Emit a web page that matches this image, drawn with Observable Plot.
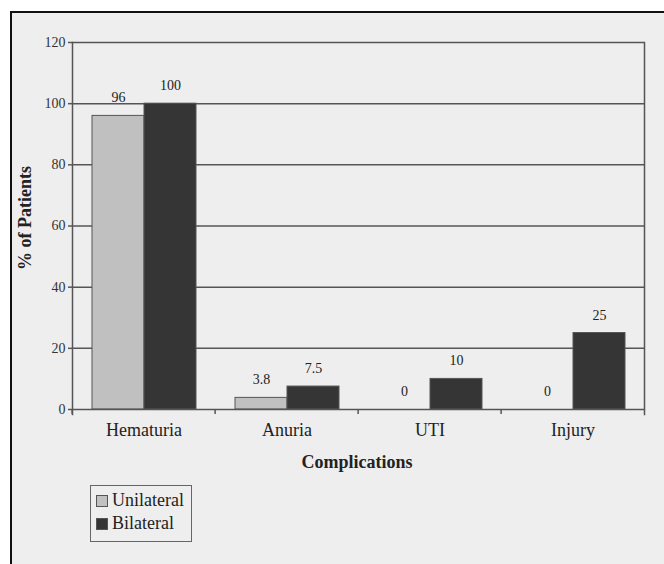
<!DOCTYPE html>
<html>
<head>
<meta charset="utf-8">
<script src="https://cdn.jsdelivr.net/npm/d3@7"></script>
<script src="https://cdn.jsdelivr.net/npm/@observablehq/plot@0.6"></script>
<style>
  html, body { margin: 0; padding: 0; background: #fff; }
  #wrap { position: relative; width: 664px; height: 564px; overflow: hidden; background: #fff; font-family: "Liberation Serif", "Times New Roman", serif; color: #222; }
  #panel { position: absolute; left: 10px; top: 11px; width: 700px; height: 600px; border-left: 2px solid #111; border-top: 2px solid #111; background: #eeeeee; }
  #chart { position: absolute; left: 0; top: 0; }
  #ytitle { position: absolute; left: 25px; top: 218px; transform: translate(-50%, -50%) rotate(-90deg); font-weight: bold; font-size: 18px; white-space: nowrap; }
  #xtitle { position: absolute; left: 357px; top: 462px; transform: translate(-50%, -50%); font-weight: bold; font-size: 18px; white-space: nowrap; }
  #legend { position: absolute; left: 90px; top: 485px; width: 100px; height: 55px; border: 1.5px solid #666; font-size: 18px; }
  .item { position: absolute; left: 5px; display: flex; align-items: center; }
  .sw { width: 10px; height: 10px; margin-right: 4px; border: 1px solid #555; }
</style>
</head>
<body>
<div id="wrap">
  <div id="panel"></div>
  <div id="chart"></div>
  <div id="ytitle">% of Patients</div>
  <div id="xtitle">Complications</div>
  <div id="legend"></div>
</div>
<script>
const categories = ["Hematuria", "Anuria", "UTI", "Injury"];
const seriesNames = ["Unilateral", "Bilateral"];
const unilateral = [96, 3.8, 0, 0];
const bilateral = [100, 7.5, 10, 25];
const yTicks = [0, 20, 40, 60, 80, 100, 120];
const seriesColors = ["#c0c0c0", "#353535"];

const data = [];
categories.forEach((c, i) => {
  data.push({category: c, series: "Unilateral", value: unilateral[i]});
  data.push({category: c, series: "Bilateral", value: bilateral[i]});
});

const chart = Plot.plot({
  width: 664,
  height: 480,
  marginLeft: 70,
  marginRight: 19,
  marginTop: 42,
  marginBottom: 71,
  style: {background: "transparent", fontFamily: "Liberation Serif, Times New Roman, serif", color: "#222"},
  fx: {domain: categories, padding: 0, axis: null, label: null},
  x: {domain: seriesNames, paddingInner: 0, paddingOuter: 0.36, axis: null},
  y: {domain: [0, 120], axis: null},
  color: {domain: seriesNames, range: seriesColors},
  marks: [
    Plot.ruleY(yTicks.filter(d => d > 0), {stroke: "#555", strokeWidth: 1.5}),
    Plot.barY(data.filter(d => d.value > 0), {fx: "category", x: "series", y: "value", fill: "series", stroke: "#555", strokeWidth: 1}),
    Plot.text(data, {fx: "category", x: "series", y: "value", text: d => String(d.value), dy: -18, fontSize: 14, fill: "#222"}),
    Plot.ruleY([0], {stroke: "#555", strokeWidth: 1.5}),
    Plot.frame({anchor: "left", fx: () => "Hematuria", stroke: "#555", strokeWidth: 1.5, insetBottom: -5}),
    Plot.frame({anchor: "right", fx: () => "Injury", stroke: "#555", strokeWidth: 1.5, insetBottom: -5}),
    Plot.axisFx({anchor: "bottom", text: null, label: null, tickSize: 5, dx: -71.875, stroke: "#555", strokeWidth: 1.5}),
    Plot.axisFx({anchor: "bottom", tickSize: 0, tickPadding: 14, fontSize: 18, label: null, fill: "#222"}),
    Plot.axisY(yTicks, {anchor: "left", tickSize: 4, tickPadding: 3, fontSize: 14, label: null, stroke: "#555", strokeWidth: 1.5, fill: "#333"})
  ]
});
document.getElementById("chart").appendChild(chart);

const legend = document.getElementById("legend");
seriesNames.forEach((s, i) => {
  const item = document.createElement("div");
  item.className = "item";
  item.style.top = (i === 0 ? 4 : 27) + "px";
  item.innerHTML = `<span class="sw" style="background:${seriesColors[i]}"></span><span>${s}</span>`;
  legend.appendChild(item);
});
</script>
</body>
</html>
